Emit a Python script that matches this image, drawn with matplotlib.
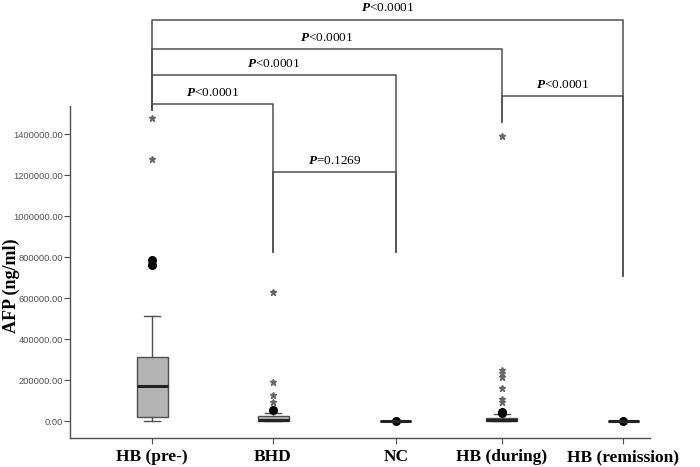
import matplotlib.pyplot as plt
import matplotlib.ticker as mticker

# groups and box statistics (ng/ml)
groups = ['HB (pre-)', 'BHD', 'NC', 'HB (during)', 'HB (remission)']
q1 = [20000, 0, 500, 0, 500]
med = [172000, 3000, 500, 3000, 500]
q3 = [312000, 22000, 500, 17000, 500]
whis_lo = [0, 0, 500, 0, 500]
whis_hi = [512000, 39000, 500, 34000, 500]
# outliers (circles) and extreme values (stars)
outliers = [[760000, 785000], [54000], [500], [40000, 45000], [500]]
extremes = [[1278000, 1478000], [93000, 127000, 190000, 630000], [],
            [93000, 107000, 161000, 215000, 234000, 250000, 1390000], []]

# comparisons: (group a, group b, label)
comparisons = [(0, 4, '<0.0001'), (0, 3, '<0.0001'), (0, 2, '<0.0001'),
               (0, 1, '<0.0001'), (3, 4, '<0.0001'), (1, 2, '=0.1269')]

# layout
positions = [1, 1.996, 3.008, 3.88, 4.88]
bracket_y = [1958000, 1815000, 1688000, 1546000, 1585000, 1215000]
leg_bottom = [1517000, 824000, 824000, 1458000, 707000]

plt.rcParams['mathtext.fontset'] = 'custom'
plt.rcParams['mathtext.it'] = 'Liberation Serif:italic:bold'
plt.rcParams['mathtext.rm'] = 'Liberation Serif'

line_c = '#505050'

fig = plt.figure(figsize=(7, 4.67), dpi=100)
ax = fig.add_axes([0.1, 0.0621, 0.8286, 0.7109])

stats = []
for i in range(len(groups)):
    stats.append({'q1': q1[i], 'med': med[i], 'q3': q3[i],
                  'whislo': whis_lo[i], 'whishi': whis_hi[i], 'fliers': []})

ax.bxp(stats, positions=positions, widths=0.255, capwidths=0.125,
       showfliers=False, patch_artist=True,
       boxprops=dict(facecolor='#b4b4b4', edgecolor=line_c, linewidth=1),
       whiskerprops=dict(color=line_c, linewidth=1),
       capprops=dict(color=line_c, linewidth=1),
       medianprops=dict(color='#222222', linewidth=2.2))

for i in range(len(groups)):
    if outliers[i]:
        ax.plot([positions[i]] * len(outliers[i]), outliers[i], 'o',
                color='black', markersize=5.5, clip_on=False)
    if extremes[i]:
        ax.plot([positions[i]] * len(extremes[i]), extremes[i], '*',
                color='#666666', markersize=4.5, clip_on=False)

# significance brackets
for (a, b, lab), h in zip(comparisons, bracket_y):
    xa, xb = positions[a], positions[b]
    ax.plot([xa, xa, xb, xb], [leg_bottom[a], h, h, leg_bottom[b]],
            color=line_c, linewidth=1.1, clip_on=False)
    ax.text((xa + xb) / 2, h + 25000, '$P$' + lab, ha='center', va='bottom',
            fontsize=9.5, family='Liberation Serif')

ax.set_xlim(0.325, 5.099)
ax.set_ylim(-82900, 1536600)
ax.set_xticks(positions)
ax.set_xticklabels(groups, fontsize=12.5, fontweight='bold',
                   family='Liberation Serif')
ax.set_yticks(range(0, 1400001, 200000))
ax.yaxis.set_major_formatter(mticker.FormatStrFormatter('%.2f'))
for t in ax.get_yticklabels():
    t.set_fontsize(6.7)
    t.set_family('Liberation Sans')
    t.set_color('#333333')
ax.tick_params(axis='both', direction='out', length=4, width=0.8, colors=line_c)
ax.tick_params(axis='y', pad=1)
ax.tick_params(axis='x', labelcolor='black', pad=4)
ax.set_ylabel('AFP (ng/ml)', fontsize=13, fontweight='bold',
              family='Liberation Serif')
ax.yaxis.set_label_coords(-0.086, 0.46)

for s in ['top', 'right']:
    ax.spines[s].set_visible(False)
for s in ['left', 'bottom']:
    ax.spines[s].set_color(line_c)
    ax.spines[s].set_linewidth(1)

fig.savefig('out.png', dpi=100)
